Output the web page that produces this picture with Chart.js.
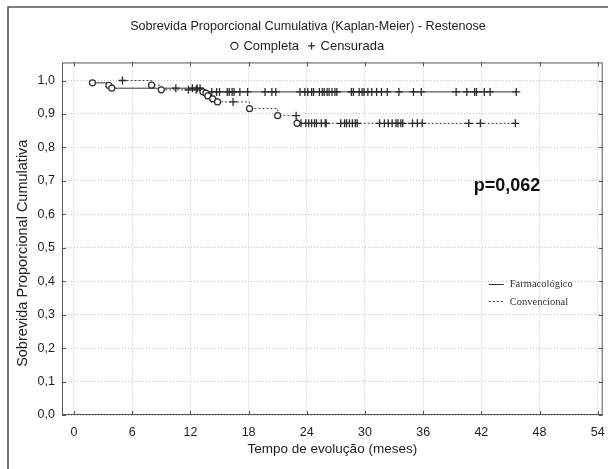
<!DOCTYPE html>
<html>
<head>
<meta charset="utf-8">
<script src="https://cdn.jsdelivr.net/npm/chart.js@4"></script>
<style>
  html, body { margin: 0; padding: 0; background: #fff; }
  #km-chart { display: block; }
</style>
</head>
<body>
<canvas id="km-chart" width="608" height="469"></canvas>
<script>
// Farmacológico: complete events (time, survival) and censored times
const farmEventTimes = [1.9, 3.6, 3.9, 13.3];
const farmEventSurv = [0.993, 0.985, 0.977, 0.966];
const farmCensTimes = [10.5, 12.2, 12.7, 13.0, 14.2, 14.7, 15.0, 15.8, 16.0, 16.3, 16.5, 17.1, 17.9,
    19.7, 20.4, 20.8, 23.3, 23.8, 24.1, 24.5, 24.7, 25.3, 25.6, 25.8, 26.1, 26.3, 26.6, 26.9, 27.1,
    28.6, 28.8, 29.4, 29.7, 29.9, 30.3, 30.7, 31.2, 31.7, 32.3, 33.5, 35.0, 35.8,
    39.4, 40.5, 41.3, 41.5, 42.3, 42.9, 45.6];

// Convencional
const convEventTimes = [8.0, 9.0, 13.6, 13.8, 14.3, 14.8, 18.1, 21.0, 23.0];
const convEventSurv = [0.986, 0.972, 0.962, 0.954, 0.945, 0.936, 0.916, 0.895, 0.872];
const convCensTimes = [5.0, 11.8, 12.6, 16.4, 22.9, 23.4, 23.9, 24.2, 24.5, 24.8, 25.0, 25.5, 25.9, 26.0,
    27.5, 27.9, 28.1, 28.4, 28.7, 29.0, 29.2, 31.5, 32.0, 32.4, 32.8, 33.2, 33.4, 33.7, 33.9,
    34.9, 35.4, 35.9, 40.7, 41.9, 45.5];

const xTickValues = [0, 6, 12, 18, 24, 30, 36, 42, 48, 54];
const yTickValues = [0, 0.1, 0.2, 0.3, 0.4, 0.5, 0.6, 0.7, 0.8, 0.9, 1.0];

const seriesNames = ['Farmacológico', 'Convencional'];
const pValueText = 'p=0,062';

// survival level (step) at time t
function levelAt(times, surv, t) {
    let s = 1;
    for (let i = 0; i < times.length; i++) {
        if (times[i] <= t) s = surv[i];
    }
    return s;
}

function eventPoints(times, surv) {
    return times.map((t, i) => ({ x: t, y: surv[i] }));
}

function censPoints(times, evT, evS) {
    return times.map(t => ({ x: t, y: levelAt(evT, evS, t) }));
}

function stepPoints(evT, evS, cT) {
    return eventPoints(evT, evS).concat(censPoints(cT, evT, evS)).sort((a, b) => a.x - b.x);
}

const farmEvents = eventPoints(farmEventTimes, farmEventSurv);
const convEvents = eventPoints(convEventTimes, convEventSurv);
const farmCens = censPoints(farmCensTimes, farmEventTimes, farmEventSurv);
const convCens = censPoints(convCensTimes, convEventTimes, convEventSurv);

const ink = '#2a2a2a';

const framePlugin = {
    id: 'frame',
    beforeDraw(chart) {
        const ctx = chart.ctx;
        ctx.save();
        ctx.fillStyle = '#fff';
        ctx.fillRect(0, 0, chart.width, chart.height);
        ctx.strokeStyle = '#555';
        ctx.lineWidth = 1.6;
        ctx.beginPath();
        ctx.moveTo(8, chart.height);
        ctx.lineTo(8, 7);
        ctx.lineTo(chart.width, 7);
        ctx.stroke();
        ctx.restore();
    },
    beforeDatasetsDraw(chart) {
        const { ctx, chartArea: a, scales } = chart;
        ctx.save();
        ctx.strokeStyle = '#555';
        ctx.lineWidth = 1;
        ctx.strokeRect(a.left + 0.5, a.top + 0.5, a.right - a.left - 1, a.bottom - a.top - 1);
        ctx.beginPath();
        xTickValues.forEach(v => {
            const px = Math.round(scales.x.getPixelForValue(v)) + 0.5;
            ctx.moveTo(px, a.bottom); ctx.lineTo(px, a.bottom - 4);
            ctx.moveTo(px, a.top); ctx.lineTo(px, a.top + 4);
        });
        yTickValues.forEach(v => {
            const py = Math.round(scales.y.getPixelForValue(v)) + 0.5;
            ctx.moveTo(a.left, py); ctx.lineTo(a.left + 4, py);
            ctx.moveTo(a.right, py); ctx.lineTo(a.right - 4, py);
        });
        ctx.stroke();
        ctx.restore();
    },
    afterDraw(chart) {
        const { ctx, scales } = chart;
        const x = scales.x, y = scales.y;
        ctx.save();
        // p value
        ctx.fillStyle = '#111';
        ctx.font = 'bold 18px "Liberation Sans", Arial, sans-serif';
        ctx.textBaseline = 'middle';
        ctx.textAlign = 'left';
        ctx.fillText(pValueText, x.getPixelForValue(41.22), y.getPixelForValue(0.684));

        // inner legend for the two curves
        const lx0 = x.getPixelForValue(42.76), lx1 = x.getPixelForValue(44.31);
        const tx = x.getPixelForValue(44.93);
        const rows = [y.getPixelForValue(0.393), y.getPixelForValue(0.34)];
        ctx.font = '10.5px "Liberation Serif", "Times New Roman", serif';
        ctx.fillStyle = '#333';
        ctx.strokeStyle = '#333';
        ctx.lineWidth = 1;
        rows.forEach((ry, i) => {
            ctx.setLineDash(i === 0 ? [] : [2, 2]);
            ctx.beginPath();
            ctx.moveTo(lx0, Math.round(ry) + 0.5);
            ctx.lineTo(lx1, Math.round(ry) + 0.5);
            ctx.stroke();
            ctx.fillText(seriesNames[i], tx, ry + 1);
        });
        ctx.restore();
    }
};

Chart.defaults.font.family = '"Liberation Sans", Arial, sans-serif';
Chart.defaults.font.size = 12.5;
Chart.defaults.color = '#1e1e1e';

new Chart(document.getElementById('km-chart'), {
    type: 'scatter',
    data: {
        datasets: [
            {
                label: 'Completa',
                data: farmEvents.concat(convEvents),
                pointStyle: 'circle',
                pointRadius: 3,
                pointBackgroundColor: '#fff',
                backgroundColor: '#fff',
                borderColor: ink,
                pointBorderWidth: 1.2,
                borderWidth: 1.2,
                showLine: false,
                order: 0
            },
            {
                label: 'Censurada',
                data: farmCens.concat(convCens),
                pointStyle: 'cross',
                pointRadius: 4,
                borderColor: ink,
                backgroundColor: ink,
                pointBorderWidth: 1.3,
                borderWidth: 1.3,
                showLine: false,
                order: 1
            },
            {
                label: seriesNames[0],
                data: stepPoints(farmEventTimes, farmEventSurv, farmCensTimes),
                showLine: true,
                stepped: true,
                borderColor: '#333',
                borderWidth: 1,
                pointRadius: 0,
                order: 2
            },
            {
                label: seriesNames[1],
                data: stepPoints(convEventTimes, convEventSurv, convCensTimes),
                showLine: true,
                stepped: true,
                borderColor: '#444',
                borderWidth: 1,
                borderDash: [2, 2],
                pointRadius: 0,
                order: 3
            }
        ]
    },
    options: {
        responsive: false,
        animation: false,
        layout: { padding: { left: 0, right: -8, top: 0, bottom: 0 } },
        scales: {
            x: {
                type: 'linear',
                min: -1.237,
                max: 54.51,
                afterBuildTicks: scale => { scale.ticks = xTickValues.map(v => ({ value: v })); },
                afterFit: scale => {
                    scale.height = 54;
                    scale.paddingLeft = 0;
                    scale.paddingRight = 0;
                },
                grid: { color: '#c4c4c4', drawTicks: false },
                border: { display: false, dash: [1, 2] },
                ticks: { padding: 10, color: '#1e1e1e' },
                title: {
                    display: true,
                    text: 'Tempo de evolução (meses)',
                    font: { size: 13.5 },
                    padding: { top: 0, bottom: 12 }
                }
            },
            y: {
                type: 'linear',
                min: 0,
                max: 1.054,
                afterBuildTicks: scale => { scale.ticks = yTickValues.map(v => ({ value: v })); },
                afterFit: scale => { scale.width = 62; },
                grid: { color: '#c4c4c4', drawTicks: false },
                border: { display: false, dash: [1, 2] },
                ticks: {
                    padding: 7,
                    color: '#1e1e1e',
                    callback: v => v.toFixed(1).replace('.', ',')
                },
                title: {
                    display: true,
                    // trailing en spaces push the rotated text a little lower, as in the original
                    text: 'Sobrevida Proporcional Cumulativa\u2002\u2002\u2002\u2002',
                    font: { size: 14.5 },
                    padding: { top: 14, bottom: 0 }
                }
            }
        },
        plugins: {
            title: {
                display: true,
                text: 'Sobrevida Proporcional Cumulativa (Kaplan-Meier) - Restenose',
                font: { size: 12.6, weight: 'normal', lineHeight: 0.4 },
                color: '#1e1e1e',
                padding: { top: 24.4, bottom: 0 }
            },
            legend: {
                display: true,
                position: 'top',
                labels: {
                    usePointStyle: true,
                    boxWidth: 5,
                    boxHeight: 5,
                    padding: 10,
                    color: '#1e1e1e',
                    font: { size: 13 },
                    filter: item => item.datasetIndex < 2
                }
            },
            tooltip: { enabled: false }
        }
    },
    plugins: [framePlugin]
});
</script>
</body>
</html>
